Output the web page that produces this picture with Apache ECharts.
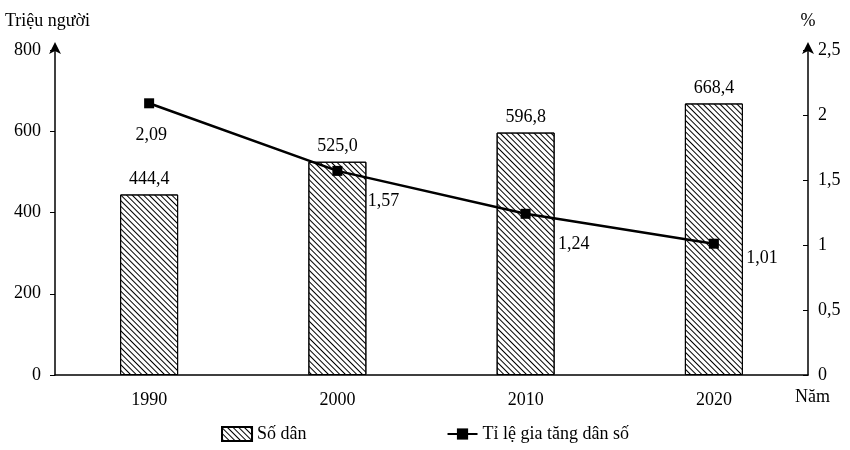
<!DOCTYPE html>
<html><head><meta charset="utf-8">
<script src="https://cdn.jsdelivr.net/npm/echarts@6/dist/echarts.min.js"></script>
<style>html,body{margin:0;background:#fff}#c{width:850px;height:450px}</style>
</head><body><div id="c"></div>
<script>
const categories = ['1990','2000','2010','2020'];
const population = [444.4, 525.0, 596.8, 668.4];
const growthRate = [2.09, 1.57, 1.24, 1.01];
const leftTicks = [0,200,400,600,800];
const rightTickLabels = ['0','0,5','1','1,5','2','2,5'];
const font = 'Liberation Serif';
const fs = 18;
const fmt = (v, d) => v.toFixed(d).replace('.', ',');
const chart = echarts.init(document.getElementById('c'));
const lineOffsets = [[2,32],[46,30],[48,30],[48,15]];
chart.setOption({
  animation:false,
  textStyle:{fontFamily:font,color:'#000',fontSize:fs},
  grid:{left:55,right:42,top:50,bottom:75},
  legend:{bottom:2,left:'center',itemGap:140,itemWidth:30,itemHeight:14,
    textStyle:{fontFamily:font,fontSize:fs,color:'#000'},
    data:[{name:'Số dân',icon:'rect'},{name:'Tỉ lệ gia tăng dân số'}]},
  graphic:[{type:'text',right:20,top:388,style:{text:'Năm',font:fs+'px "Liberation Serif"',fill:'#000'}}],
  xAxis:{type:'category',data:categories,
    axisLine:{lineStyle:{color:'#000',width:1.5}},axisTick:{show:false},
    axisLabel:{fontFamily:font,fontSize:fs,color:'#000',margin:16}},
  yAxis:[
    {type:'value',min:0,max:800,interval:200,name:'Triệu người',nameGap:20,
     nameTextStyle:{fontFamily:font,fontSize:fs,color:'#000',align:'left',padding:[0,0,0,-50]},
     axisLine:{show:true,symbol:['none','arrow'],symbolSize:[9,12],symbolOffset:[0,8],lineStyle:{color:'#000',width:1.5}},
     axisTick:{show:true,lineStyle:{color:'#000'}},splitLine:{show:false},
     axisLabel:{fontFamily:font,fontSize:fs,color:'#000',margin:14,formatter:v=>leftTicks.includes(v)?String(v):''}},
    {type:'value',min:0,max:2.5,interval:0.5,name:'%',nameGap:20,
     nameTextStyle:{fontFamily:font,fontSize:fs,color:'#000',align:'center'},
     axisLine:{show:true,symbol:['none','arrow'],symbolSize:[9,12],symbolOffset:[0,8],lineStyle:{color:'#000',width:1.5}},
     axisTick:{show:true,inside:true,lineStyle:{color:'#000'}},splitLine:{show:false},
     axisLabel:{fontFamily:font,fontSize:fs,color:'#000',margin:10,formatter:v=>rightTickLabels[Math.round(v*2)]}}
  ],
  series:[
    {name:'Số dân',type:'bar',yAxisIndex:0,barWidth:58,data:population,
     itemStyle:{color:'#fff',borderColor:'#000',borderWidth:1,
       decal:{symbol:'rect',symbolSize:1,dashArrayX:[1,0],dashArrayY:[1,3],rotation:Math.PI/4,color:'#000'}},
     label:{show:true,position:'top',distance:6,fontFamily:font,fontSize:fs,color:'#000',formatter:p=>fmt(p.value,1)}},
    {name:'Tỉ lệ gia tăng dân số',type:'line',yAxisIndex:1,data:growthRate.map((v,i)=>({value:v,
       label:{offset:lineOffsets[i]}})),
     symbol:'rect',symbolSize:10,lineStyle:{color:'#000',width:2.5},itemStyle:{color:'#000'},
     label:{show:true,position:'inside',fontFamily:font,fontSize:fs,color:'#000',formatter:p=>fmt(p.value,2)}}
  ]
});
</script></body></html>
